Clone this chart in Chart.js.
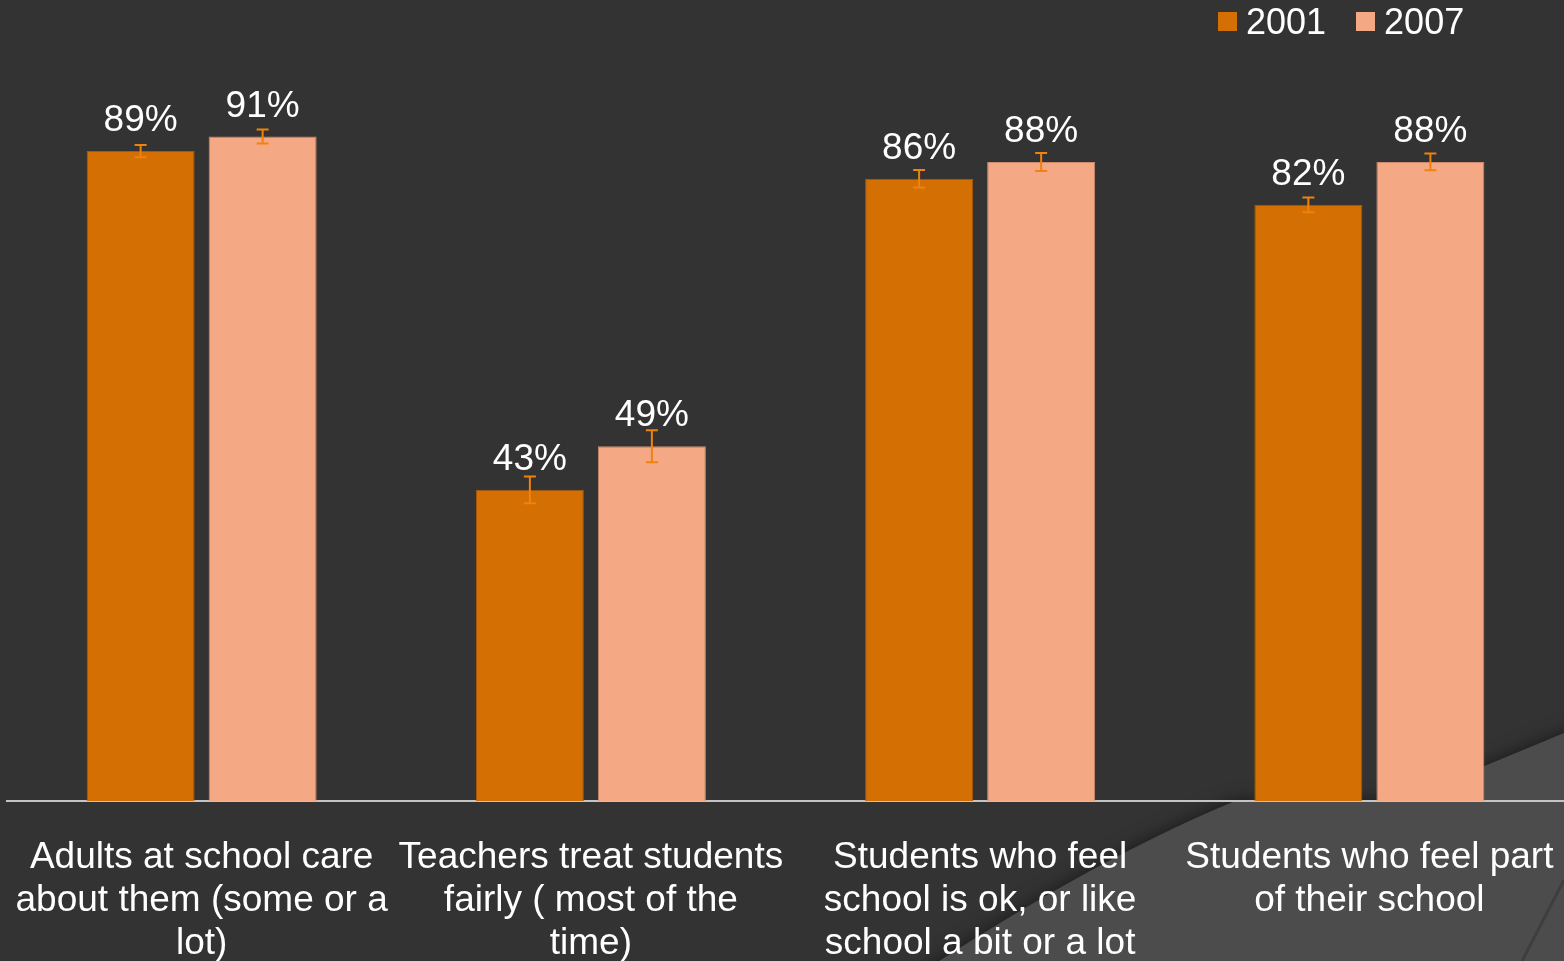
<!DOCTYPE html>
<html>
<head>
<meta charset="utf-8">
<script src="https://cdn.jsdelivr.net/npm/chart.js@4.4.1/dist/chart.umd.min.js"></script>
<style>
    html, body { margin: 0; padding: 0; background: #333333; overflow: hidden; }
    #wrap { position: relative; width: 1564px; height: 1000px; }
    #legend {
        position: absolute; top: 0; left: 1218px; height: 43px;
        display: flex; align-items: center;
        font-family: "Liberation Sans", Arial, sans-serif; font-size: 36px; line-height: 43px; color: #ffffff;
    }
    #legend .box { display: inline-block; width: 19px; height: 19px; margin-right: 9px; }
    #legend .item { display: flex; align-items: center; margin-right: 30px; }
</style>
</head>
<body>
<div id="wrap">
    <canvas id="schoolChart" width="1564" height="1000"></canvas>
    <div id="legend"></div>
</div>
<script>
// categories (already wrapped as on the slide)
const categories = [
    ['Adults at school care', 'about them (some or a', 'lot)'],
    ['Teachers treat students', 'fairly ( most of the', 'time)'],
    ['Students who feel', 'school is ok, or like', 'school a bit or a lot'],
    ['Students who feel part', 'of their school']
];
const seriesNames = ['2001', '2007'];
const values2001 = [89.4, 42.8, 85.6, 82.0];
const values2007 = [91.4, 48.8, 87.9, 87.9];
const errors2001 = [0.85, 1.85, 1.2, 1.0];
const errors2007 = [0.95, 2.2, 1.25, 1.15];

const colors = ['#d46f04', '#f4a984'];
const edgeColors = ['#a95808', '#c98a6e'];
const errorColor = '#f0820e';

// legend as html text
const legendEl = document.getElementById('legend');
seriesNames.forEach((name, i) => {
    const item = document.createElement('span');
    item.className = 'item';
    item.innerHTML = '<span class="box" style="background:' + colors[i] + '"></span>' + name;
    legendEl.appendChild(item);
});

// slide background with the lighter swoosh bottom right
const backgroundPlugin = {
    id: 'slideBackground',
    beforeDraw(chart) {
        const ctx = chart.ctx;
        ctx.save();
        ctx.fillStyle = '#333333';
        ctx.fillRect(0, 0, chart.width, chart.height);
        ctx.shadowColor = 'rgba(0,0,0,0.55)';
        ctx.shadowBlur = 18;
        ctx.fillStyle = '#4c4c4c';
        ctx.beginPath();
        ctx.moveTo(880, 1000);
        ctx.quadraticCurveTo(1080, 865, 1235, 801);
        ctx.lineTo(1400, 801);
        ctx.lineTo(1564, 733);
        ctx.lineTo(1600, 733);
        ctx.lineTo(1600, 1000);
        ctx.closePath();
        ctx.fill();
        ctx.shadowBlur = 0;
        ctx.strokeStyle = 'rgba(0,0,0,0.18)';
        ctx.lineWidth = 3;
        ctx.beginPath();
        ctx.moveTo(1522, 961);
        ctx.lineTo(1564, 880);
        ctx.stroke();
        ctx.restore();
    }
};

// error bars and value labels on top of the bars
const barExtrasPlugin = {
    id: 'barExtras',
    afterDatasetsDraw(chart) {
        const ctx = chart.ctx;
        const yScale = chart.scales.y;
        const errs = [errors2001, errors2007];
        ctx.save();
        chart.data.datasets.forEach((ds, di) => {
            const meta = chart.getDatasetMeta(di);
            meta.data.forEach((bar, i) => {
                const v = ds.data[i];
                const e = errs[di][i];
                const yHi = yScale.getPixelForValue(v + e);
                const yLo = yScale.getPixelForValue(v - e);
                ctx.strokeStyle = errorColor;
                ctx.lineWidth = 2;
                ctx.beginPath();
                ctx.moveTo(bar.x, yHi); ctx.lineTo(bar.x, yLo);
                ctx.moveTo(bar.x - 6, yHi); ctx.lineTo(bar.x + 6, yHi);
                ctx.moveTo(bar.x - 6, yLo); ctx.lineTo(bar.x + 6, yLo);
                ctx.stroke();

                ctx.fillStyle = '#ffffff';
                ctx.font = '37px "Liberation Sans", Arial, sans-serif';
                ctx.textAlign = 'center';
                ctx.textBaseline = 'alphabetic';
                ctx.fillText(Math.round(v) + '%', bar.x, bar.y - 20);
            });
        });
        ctx.restore();
    }
};

const ctx = document.getElementById('schoolChart').getContext('2d');
const schoolChart = new Chart(ctx, {
    type: 'bar',
    data: {
        labels: categories,
        datasets: [{
            label: seriesNames[0],
            data: values2001,
            backgroundColor: colors[0],
            borderColor: edgeColors[0],
            borderWidth: 1,
            categoryPercentage: 0.627,
            barPercentage: 0.885
        }, {
            label: seriesNames[1],
            data: values2007,
            backgroundColor: colors[1],
            borderColor: edgeColors[1],
            borderWidth: 1,
            categoryPercentage: 0.627,
            barPercentage: 0.885
        }]
    },
    plugins: [backgroundPlugin, barExtrasPlugin],
    options: {
        responsive: false,
        animation: false,
        layout: { padding: { left: 7, right: 0, top: 74, bottom: 34 } },
        plugins: {
            legend: { display: false },
            tooltip: { enabled: false }
        },
        scales: {
            y: { display: false, min: 0, max: 100 },
            x: {
                grid: { display: false, drawTicks: false },
                border: { display: true, color: '#c4c4c4', width: 2 },
                ticks: {
                    color: '#ffffff',
                    font: { family: '"Liberation Sans", Arial, sans-serif', size: 37, lineHeight: 1.165 },
                    padding: 35,
                    maxRotation: 0,
                    autoSkip: false
                },
                afterFit(scale) {
                    // labels sit inside their own category, no extra side padding
                    scale.paddingLeft = 0;
                    scale.paddingRight = 0;
                    scale.height = 165;
                }
            }
        }
    }
});
</script>
</body>
</html>
